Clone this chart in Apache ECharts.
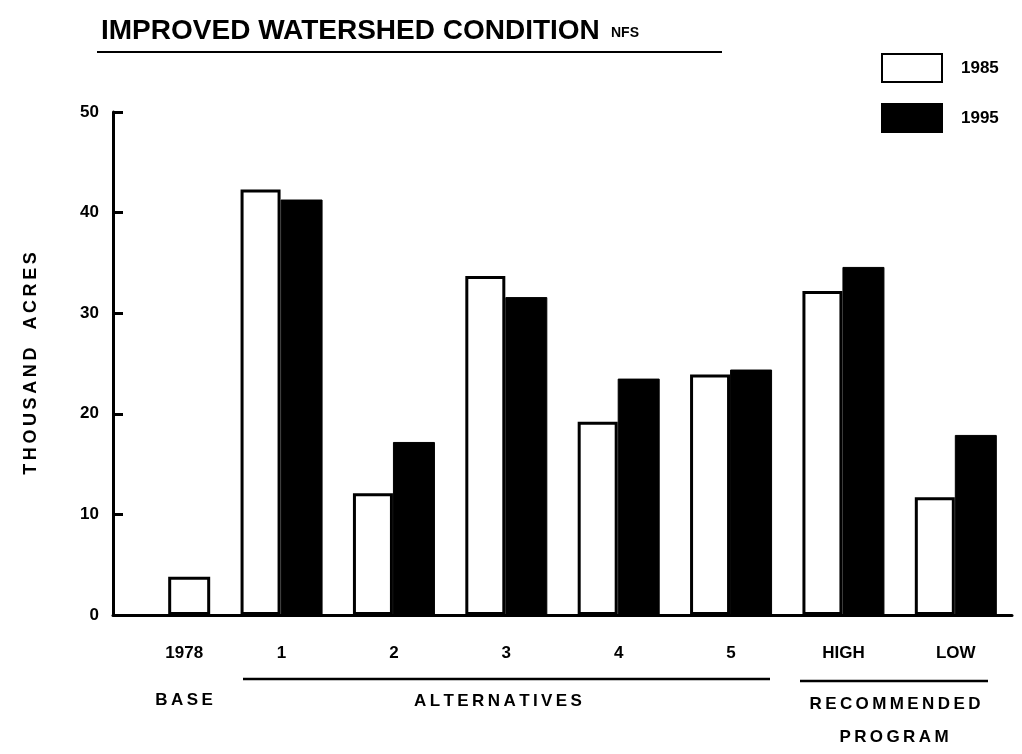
<!DOCTYPE html>
<html>
<head>
<meta charset="utf-8">
<script src="https://cdn.jsdelivr.net/npm/echarts@6/dist/echarts.min.js"></script>
<style>
  html, body { margin: 0; padding: 0; background: #fff; }
  #chart { width: 1022px; height: 754px; }
</style>
</head>
<body>
<div id="chart"></div>
<script>
const categories = ['1978', '1', '2', '3', '4', '5', 'HIGH', 'LOW'];
const base1978 = 3.8;
const v1985 = [null, 42.3, 12.1, 33.7, 19.2, 23.9, 32.2, 11.7];
const v1995 = [null, 41.3, 17.2, 31.6, 23.5, 24.4, 34.6, 17.9];
const yTicks = [0, 10, 20, 30, 40, 50];

const font = '"Liberation Sans", "DejaVu Sans", sans-serif';
const spaced = s => s.split('').join('\u2009');
const whiteBar = { color: '#fff', borderColor: '#000', borderWidth: 3 };

const chart = echarts.init(document.getElementById('chart'));

// the 1978 base bar sits in the right hand slot of its group, drawn white
const data1995 = v1995.map((v, i) => (i === 0 ? { value: base1978, itemStyle: whiteBar } : v));

const option = {
  backgroundColor: '#fff',
  animation: false,
  textStyle: { fontFamily: font, color: '#000' },
  legend: {
    data: ['1985', '1995'],
    orient: 'vertical',
    left: 876,
    top: 48,
    icon: 'rect',
    itemWidth: 60,
    itemHeight: 28,
    itemGap: 20,
    textStyle: { fontSize: 17, fontWeight: 'bold', color: '#000', padding: [0, 0, 0, 14] }
  },
  grid: { left: 113, right: 10, top: 112, bottom: 139 },
  xAxis: {
    type: 'category',
    data: categories,
    axisLine: { lineStyle: { color: '#000', width: 3 } },
    axisTick: { show: false },
    axisLabel: {
      interval: 0,
      hideOverlap: false,
      fontSize: 17, fontWeight: 'bold', color: '#000', margin: 30,
      formatter: (v, i) => (i === 0 ? '{base|' + v + '}' : v),
      rich: { base: { fontSize: 17, fontWeight: 'bold', color: '#000', padding: [0, 0, 0, 30] } }
    }
  },
  yAxis: {
    type: 'value',
    min: 0,
    max: 50,
    interval: 10,
    name: spaced('THOUSAND') + '\u2003' + spaced('ACRES'),
    nameLocation: 'middle',
    nameGap: 73,
    nameTextStyle: { fontSize: 18, fontWeight: 'bold', color: '#000' },
    axisLine: { show: true, lineStyle: { color: '#000', width: 3 } },
    axisTick: { show: true, inside: true, length: 10, lineStyle: { color: '#000', width: 3 } },
    axisLabel: {
      fontSize: 17, fontWeight: 'bold', color: '#000', margin: 14,
      formatter: v => (yTicks.includes(v) ? String(v) : '')
    },
    splitLine: { show: false }
  },
  series: [
    {
      name: '1985',
      type: 'bar',
      data: v1985,
      barWidth: 40,
      barGap: '0%',
      itemStyle: whiteBar
    },
    {
      name: '1995',
      type: 'bar',
      data: data1995,
      barWidth: 42,
      itemStyle: { color: '#000', borderColor: '#000', borderWidth: 1 }
    }
  ],
  graphic: [
    {
      type: 'text', left: 101, top: 17,
      style: { text: 'IMPROVED WATERSHED CONDITION', fontSize: 28, fontWeight: 'bold', fontFamily: font, fill: '#000' }
    },
    {
      type: 'text', left: 611, top: 26,
      style: { text: 'NFS', fontSize: 14, fontWeight: 'bold', fontFamily: font, fill: '#000' }
    },
    {
      type: 'line', shape: { x1: 97, y1: 52, x2: 722, y2: 52 },
      style: { stroke: '#000', lineWidth: 2 }
    },
    {
      type: 'text', x: 184, y: 700,
      style: { text: spaced('BASE'), fontSize: 17, fontWeight: 'bold', fontFamily: font, fill: '#000', align: 'center', verticalAlign: 'middle' }
    },
    {
      type: 'line', shape: { x1: 243, y1: 679, x2: 770, y2: 679 },
      style: { stroke: '#000', lineWidth: 2.5 }
    },
    {
      type: 'text', x: 498, y: 701,
      style: { text: spaced('ALTERNATIVES'), fontSize: 17, fontWeight: 'bold', fontFamily: font, fill: '#000', align: 'center', verticalAlign: 'middle' }
    },
    {
      type: 'line', shape: { x1: 800, y1: 681, x2: 988, y2: 681 },
      style: { stroke: '#000', lineWidth: 2.5 }
    },
    {
      type: 'text', x: 895, y: 704,
      style: { text: spaced('RECOMMENDED'), fontSize: 17, fontWeight: 'bold', fontFamily: font, fill: '#000', align: 'center', verticalAlign: 'middle' }
    },
    {
      type: 'text', x: 894, y: 737,
      style: { text: spaced('PROGRAM'), fontSize: 17, fontWeight: 'bold', fontFamily: font, fill: '#000', align: 'center', verticalAlign: 'middle' }
    }
  ]
};

chart.setOption(option);
</script>
</body>
</html>
